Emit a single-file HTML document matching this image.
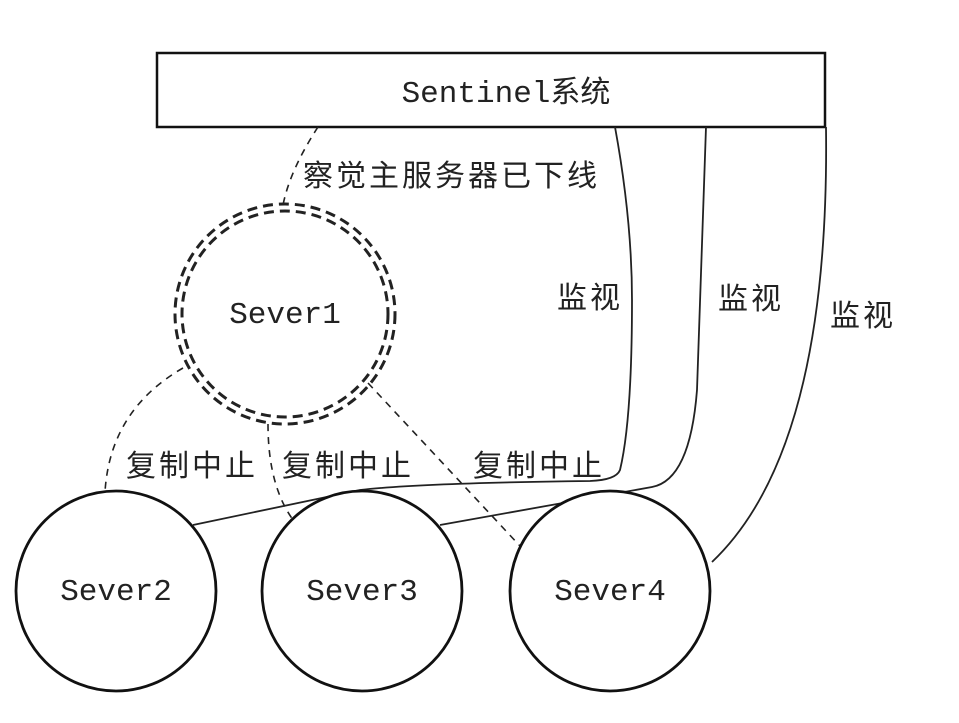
<!DOCTYPE html>
<html><head><meta charset="utf-8"><style>
html,body{margin:0;padding:0;background:#fff;width:959px;height:723px;overflow:hidden}
svg text{fill:#222}
.m{font-family:"Liberation Mono",monospace;font-size:31px}
.c{font-family:"Liberation Sans","Noto Sans CJK SC",sans-serif;font-size:30px;letter-spacing:3px}
</style></head><body>
<svg width="959" height="723" viewBox="0 0 959 723" xmlns="http://www.w3.org/2000/svg">
<rect x="157" y="53" width="668" height="74" fill="#fff" stroke="#111" stroke-width="2.5"/>
<text class="m" x="506" y="102" text-anchor="middle">Sentinel<tspan class="c" style="letter-spacing:0">系统</tspan></text>
<g fill="none" stroke="#222" stroke-width="3" stroke-dasharray="10,6">
<circle cx="285" cy="314" r="110"/>
<circle cx="285" cy="314" r="103"/>
</g>
<text class="m" x="285" y="323" text-anchor="middle">Sever1</text>
<g fill="none" stroke="#222" stroke-width="1.6" stroke-dasharray="7,6">
<path d="M318 127 Q290 170 283 205"/>
<path d="M183 368 Q110 410 105 492"/>
<path d="M268 424 Q268 490 297 525"/>
<path d="M368 383 L520 546"/>
</g>
<g fill="none" stroke="#222" stroke-width="1.8">
<path d="M615 127 Q632 220 632 300 Q632 420 620 470 Q616 480 590 481 Q420 483 360 490 L193 525"/>
<path d="M706 127 Q700 300 697 390 Q690 480 652 487 L440 525"/>
<path d="M826 127 Q830 450 712 562"/>
</g>
<g fill="#fff" stroke="#111" stroke-width="2.8">
<circle cx="116" cy="591" r="100"/>
<circle cx="362" cy="591" r="100"/>
<circle cx="610" cy="591" r="100"/>
</g>
<text class="m" x="116" y="600" text-anchor="middle">Sever2</text>
<text class="m" x="362" y="600" text-anchor="middle">Sever3</text>
<text class="m" x="610" y="600" text-anchor="middle">Sever4</text>
<text class="c" x="303" y="186">察觉主服务器已下线</text>
<text class="c" x="557" y="308">监视</text>
<text class="c" x="718" y="309">监视</text>
<text class="c" x="830" y="326">监视</text>
<text class="c" x="126" y="476">复制中止</text>
<text class="c" x="282" y="476">复制中止</text>
<text class="c" x="473" y="476">复制中止</text>
</svg>
</body></html>
